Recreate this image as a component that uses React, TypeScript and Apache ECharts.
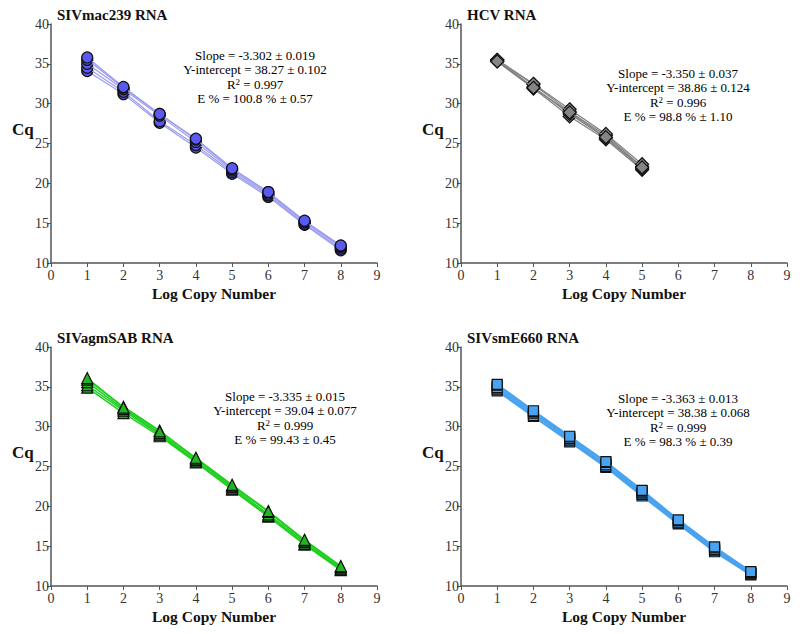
import React, { useEffect, useRef } from 'react';
import * as echarts from 'echarts';

// ---- data ----
const logCopy8 = [1, 2, 3, 4, 5, 6, 7, 8];
const logCopy5 = [1, 2, 3, 4, 5];

const sivmac239Cq = [
  [34.1, 31.2, 27.6, 24.5, 21.2, 18.3, 14.8, 11.6],
  [34.5, 31.5, 27.8, 24.8, 21.4, 18.5, 14.9, 11.8],
  [35.0, 31.8, 28.5, 25.2, 21.6, 18.7, 15.1, 12.0],
  [35.5, 32.0, 28.7, 25.5, 21.8, 18.9, 15.2, 12.1],
  [35.8, 32.1, 28.7, 25.6, 21.9, 18.9, 15.3, 12.2],
];
const hcvCq = [
  [35.3, 31.9, 28.4, 25.5, 21.7],
  [35.4, 32.1, 28.7, 25.7, 21.9],
  [35.5, 32.4, 29.0, 26.0, 22.1],
  [35.5, 32.5, 29.3, 26.2, 22.4],
  [35.3, 32.0, 28.9, 25.8, 22.0],
];
const sivagmSabCq = [
  [34.9, 31.7, 28.8, 25.5, 22.1, 18.7, 15.2, 12.0],
  [35.2, 32.0, 29.0, 25.6, 22.2, 18.8, 15.3, 12.1],
  [35.6, 32.2, 29.2, 25.8, 22.4, 19.0, 15.5, 12.2],
  [35.9, 32.5, 29.5, 26.0, 22.6, 19.3, 15.7, 12.4],
  [36.1, 32.4, 29.4, 26.1, 22.7, 19.4, 15.8, 12.5],
];
const sivsmE660Cq = [
  [34.5, 31.3, 28.1, 24.9, 21.3, 17.8, 14.3, 11.4],
  [34.7, 31.4, 28.3, 25.0, 21.5, 17.9, 14.5, 11.5],
  [34.9, 31.7, 28.5, 25.2, 21.7, 18.0, 14.6, 11.6],
  [35.2, 31.9, 28.7, 25.5, 21.9, 18.2, 14.8, 11.7],
  [35.3, 32.0, 28.8, 25.6, 22.0, 18.3, 14.9, 11.8],
];

const titles = ['SIVmac239 RNA', 'HCV RNA', 'SIVagmSAB RNA', 'SIVsmE660 RNA'];
const slopes = ['-3.302 ± 0.019', '-3.350 ± 0.037', '-3.335 ± 0.015', '-3.363 ± 0.013'];
const intercepts = ['38.27 ± 0.102', '38.86 ± 0.124', '39.04 ± 0.077', '38.38 ± 0.068'];
const r2Values = ['0.997', '0.996', '0.999', '0.999'];
const efficiencies = ['100.8 % ± 0.57', '98.8 % ± 1.10', '99.43 ± 0.45', '98.3 % ± 0.39'];

const FONT = 'Liberation Serif';

const panels = [
  { data: sivmac239Cq, x: logCopy8, left: 51, top: 24, symbol: 'circle', size: 11, fill: '#5a5af2', line: '#9c9cf0', lw: 1.2, annX: 255, annY: 77 },
  { data: hcvCq, x: logCopy5, left: 461, top: 24, symbol: 'diamond', size: 13, fill: '#858585', line: '#808080', lw: 1.2, annX: 678, annY: 95 },
  { data: sivagmSabCq, x: logCopy8, left: 51, top: 347, symbol: 'triangle', size: 11, fill: '#22b422', line: '#1fcf1f', lw: 1.5, annX: 285, annY: 418 },
  { data: sivsmE660Cq, x: logCopy8, left: 461, top: 347, symbol: 'rect', size: 10, fill: '#4aa3f0', line: '#4aa3ef', lw: 2, annX: 678, annY: 420 },
];

const GW = 326;
const GH = 239;

export default function App() {
  const ref = useRef<HTMLDivElement>(null);
  useEffect(() => {
    if (!ref.current) return;
    const chart = echarts.init(ref.current, undefined, { renderer: 'svg' });
    const grid: any[] = [];
    const xAxis: any[] = [];
    const yAxis: any[] = [];
    const series: any[] = [];
    const graphic: any[] = [];
    const axisLine = { show: true, lineStyle: { color: '#555', width: 1.5 } };
    panels.forEach((p, i) => {
      grid.push({ left: p.left, top: p.top, width: GW, height: GH });
      xAxis.push({
        type: 'value', gridIndex: i, min: 0, max: 9, interval: 1,
        axisLine, axisTick: { show: true, length: 4, lineStyle: { color: '#555' } },
        splitLine: { show: false },
        axisLabel: { fontFamily: FONT, fontSize: 14, color: '#333', margin: 5 },
      });
      yAxis.push({
        type: 'value', gridIndex: i, min: 10, max: 40, interval: 5,
        axisLine, axisTick: { show: true, length: 4, lineStyle: { color: '#555' } },
        splitLine: { show: false },
        axisLabel: { fontFamily: FONT, fontSize: 14, color: '#333', margin: 2 },
      });
      p.data.forEach((rep, r) => {
        series.push({
          type: 'line', xAxisIndex: i, yAxisIndex: i,
          data: p.x.map((xv, k) => [xv, rep[k]]),
          symbol: p.symbol, symbolSize: p.size, showSymbol: true,
          lineStyle: { color: p.line, width: p.lw },
          itemStyle: { color: p.fill, borderColor: '#111', borderWidth: 1.2 },
          z: 2 + r,
        });
      });
      graphic.push({
        type: 'text', left: p.left + 6, top: p.top - 17,
        style: { text: titles[i], fontFamily: FONT, fontSize: 15, fontWeight: 'bold', fill: '#111' },
      });
      graphic.push({
        type: 'text', left: p.left - 39, top: p.top + 97,
        style: { text: 'Cq', fontFamily: FONT, fontSize: 17, fontWeight: 'bold', fill: '#111' },
      });
      graphic.push({
        type: 'text', x: p.left + GW / 2, y: p.top + GH + 30,
        style: { text: 'Log Copy Number', fontFamily: FONT, fontSize: 15.5, fontWeight: 'bold', fill: '#111', align: 'center', verticalAlign: 'middle' },
      });
      graphic.push({
        type: 'text', x: p.annX, y: p.annY,
        style: {
          text: [
            `{a|Slope = ${slopes[i]}}`,
            `{a|Y-intercept = ${intercepts[i]}}`,
            `{a|R}{s|2}{a| = ${r2Values[i]}}`,
            `{a|E % = ${efficiencies[i]}}`,
          ].join('\n'),
          align: 'center', verticalAlign: 'middle',
          rich: {
            a: { fontFamily: FONT, fontSize: 13, color: '#222', lineHeight: 14.3 },
            s: { fontFamily: FONT, fontSize: 9, color: '#222', lineHeight: 14.3, verticalAlign: 'top', padding: [0, 0, 6, 0] },
          },
        },
      });
    });
    chart.setOption({
      animation: false,
      backgroundColor: '#fff',
      grid, xAxis, yAxis, series, graphic,
    });
    return () => chart.dispose();
  }, []);
  return <div ref={ref} style={{ position: 'fixed', left: 0, top: 0, width: 800, height: 634 }} />;
}
